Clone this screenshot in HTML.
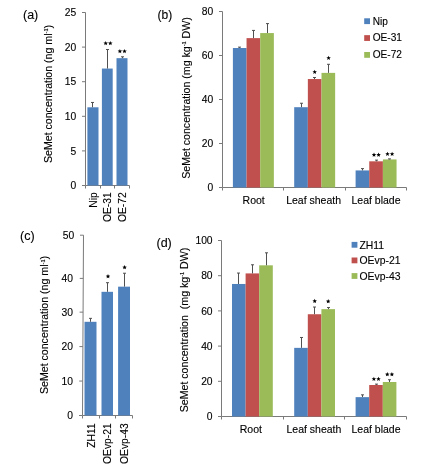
<!DOCTYPE html>
<html><head><meta charset="utf-8"><style>
html,body{margin:0;padding:0;background:#fff;overflow:hidden;}
svg{display:block;filter:blur(0.5px);}
text{font-family:"Liberation Sans", sans-serif;fill:#000;stroke:#000;stroke-width:0.12px;}
</style></head><body>
<svg width="424" height="469" viewBox="0 0 424 469">
<rect width="424" height="469" fill="#fff"/>
<text x="23.00" y="18.60" text-anchor="start" font-size="12.5" >(a)</text>
<text transform="translate(51.60,94.00) rotate(-90)" text-anchor="middle" font-size="10.6" >SeMet concentration (ng ml<tspan font-size="5.6" dy="-3.3">-1</tspan><tspan dy="3.3">)</tspan></text>
<line x1="85.50" y1="12.50" x2="85.50" y2="185.50" stroke="#7a7a7a" stroke-width="1"/>
<line x1="82.00" y1="185.50" x2="85.50" y2="185.50" stroke="#7a7a7a" stroke-width="1"/>
<text x="76.30" y="189.10" text-anchor="end" font-size="10.3" >0</text>
<line x1="82.00" y1="150.90" x2="85.50" y2="150.90" stroke="#7a7a7a" stroke-width="1"/>
<text x="76.30" y="154.50" text-anchor="end" font-size="10.3" >5</text>
<line x1="82.00" y1="116.30" x2="85.50" y2="116.30" stroke="#7a7a7a" stroke-width="1"/>
<text x="76.30" y="119.90" text-anchor="end" font-size="10.3" >10</text>
<line x1="82.00" y1="81.70" x2="85.50" y2="81.70" stroke="#7a7a7a" stroke-width="1"/>
<text x="76.30" y="85.30" text-anchor="end" font-size="10.3" >15</text>
<line x1="82.00" y1="47.10" x2="85.50" y2="47.10" stroke="#7a7a7a" stroke-width="1"/>
<text x="76.30" y="50.70" text-anchor="end" font-size="10.3" >20</text>
<line x1="82.00" y1="12.50" x2="85.50" y2="12.50" stroke="#7a7a7a" stroke-width="1"/>
<text x="76.30" y="16.10" text-anchor="end" font-size="10.3" >25</text>
<line x1="85.50" y1="185.50" x2="129.50" y2="185.50" stroke="#7a7a7a" stroke-width="1"/>
<line x1="85.50" y1="185.50" x2="85.50" y2="188.50" stroke="#7a7a7a" stroke-width="1"/>
<line x1="100.50" y1="185.50" x2="100.50" y2="188.50" stroke="#7a7a7a" stroke-width="1"/>
<line x1="114.50" y1="185.50" x2="114.50" y2="188.50" stroke="#7a7a7a" stroke-width="1"/>
<line x1="129.50" y1="185.50" x2="129.50" y2="188.50" stroke="#7a7a7a" stroke-width="1"/>
<rect x="87.40" y="107.30" width="11.10" height="78.20" fill="#4F81BD"/>
<line x1="92.50" y1="102.46" x2="92.50" y2="107.30" stroke="#505050" stroke-width="1"/>
<line x1="91.00" y1="102.46" x2="94.00" y2="102.46" stroke="#505050" stroke-width="1"/>
<rect x="101.90" y="68.55" width="10.80" height="116.95" fill="#4F81BD"/>
<line x1="107.50" y1="49.52" x2="107.50" y2="68.55" stroke="#505050" stroke-width="1"/>
<line x1="106.00" y1="49.52" x2="109.00" y2="49.52" stroke="#505050" stroke-width="1"/>
<rect x="116.50" y="58.17" width="11.00" height="127.33" fill="#4F81BD"/>
<line x1="122.50" y1="56.79" x2="122.50" y2="58.17" stroke="#505050" stroke-width="1"/>
<line x1="121.00" y1="56.79" x2="124.00" y2="56.79" stroke="#505050" stroke-width="1"/>
<text transform="translate(96.70,192.30) rotate(-90)" text-anchor="end" font-size="10.3" >Nip</text>
<text transform="translate(111.40,192.30) rotate(-90)" text-anchor="end" font-size="10.3" >OE-31</text>
<text transform="translate(125.70,192.30) rotate(-90)" text-anchor="end" font-size="10.3" >OE-72</text>
<polygon points="105.70,40.95 106.32,42.44 107.93,42.57 106.71,43.63 107.08,45.20 105.70,44.36 104.32,45.20 104.69,43.63 103.47,42.57 105.08,42.44" fill="#000"/>
<polygon points="110.30,40.95 110.92,42.44 112.53,42.57 111.31,43.63 111.68,45.20 110.30,44.36 108.92,45.20 109.29,43.63 108.07,42.57 109.68,42.44" fill="#000"/>
<polygon points="119.90,48.95 120.52,50.44 122.13,50.57 120.91,51.63 121.28,53.20 119.90,52.36 118.52,53.20 118.89,51.63 117.67,50.57 119.28,50.44" fill="#000"/>
<polygon points="124.50,48.95 125.12,50.44 126.73,50.57 125.51,51.63 125.88,53.20 124.50,52.36 123.12,53.20 123.49,51.63 122.27,50.57 123.88,50.44" fill="#000"/>
<text x="157.50" y="19.00" text-anchor="start" font-size="12" >(b)</text>
<text transform="translate(189.60,98.00) rotate(-90)" text-anchor="middle" font-size="10.6" >SeMet concentration (mg kg<tspan font-size="5.6" dy="-3.3">-1</tspan><tspan dy="3.3"> DW)</tspan></text>
<line x1="222.50" y1="11.50" x2="222.50" y2="187.50" stroke="#7a7a7a" stroke-width="1"/>
<line x1="219.00" y1="187.50" x2="222.50" y2="187.50" stroke="#7a7a7a" stroke-width="1"/>
<text x="213.30" y="191.10" text-anchor="end" font-size="10.3" >0</text>
<line x1="219.00" y1="143.50" x2="222.50" y2="143.50" stroke="#7a7a7a" stroke-width="1"/>
<text x="213.30" y="147.10" text-anchor="end" font-size="10.3" >20</text>
<line x1="219.00" y1="99.50" x2="222.50" y2="99.50" stroke="#7a7a7a" stroke-width="1"/>
<text x="213.30" y="103.10" text-anchor="end" font-size="10.3" >40</text>
<line x1="219.00" y1="55.50" x2="222.50" y2="55.50" stroke="#7a7a7a" stroke-width="1"/>
<text x="213.30" y="59.10" text-anchor="end" font-size="10.3" >60</text>
<line x1="219.00" y1="11.50" x2="222.50" y2="11.50" stroke="#7a7a7a" stroke-width="1"/>
<text x="213.30" y="15.10" text-anchor="end" font-size="10.3" >80</text>
<line x1="222.50" y1="187.50" x2="406.50" y2="187.50" stroke="#7a7a7a" stroke-width="1"/>
<line x1="222.50" y1="187.50" x2="222.50" y2="190.50" stroke="#7a7a7a" stroke-width="1"/>
<line x1="283.50" y1="187.50" x2="283.50" y2="190.50" stroke="#7a7a7a" stroke-width="1"/>
<line x1="345.50" y1="187.50" x2="345.50" y2="190.50" stroke="#7a7a7a" stroke-width="1"/>
<line x1="406.50" y1="187.50" x2="406.50" y2="190.50" stroke="#7a7a7a" stroke-width="1"/>
<rect x="232.90" y="48.02" width="13.65" height="139.48" fill="#4F81BD"/>
<line x1="239.50" y1="47.14" x2="239.50" y2="48.02" stroke="#505050" stroke-width="1"/>
<line x1="238.00" y1="47.14" x2="241.00" y2="47.14" stroke="#505050" stroke-width="1"/>
<rect x="246.55" y="38.12" width="13.65" height="149.38" fill="#C0504D"/>
<line x1="253.50" y1="30.42" x2="253.50" y2="38.12" stroke="#505050" stroke-width="1"/>
<line x1="252.00" y1="30.42" x2="255.00" y2="30.42" stroke="#505050" stroke-width="1"/>
<rect x="260.20" y="33.06" width="13.65" height="154.44" fill="#9BBB59"/>
<line x1="267.50" y1="23.60" x2="267.50" y2="33.06" stroke="#505050" stroke-width="1"/>
<line x1="266.00" y1="23.60" x2="269.00" y2="23.60" stroke="#505050" stroke-width="1"/>
<text x="253.70" y="203.60" text-anchor="middle" font-size="10.5" >Root</text>
<rect x="294.20" y="107.20" width="13.65" height="80.30" fill="#4F81BD"/>
<line x1="301.50" y1="103.24" x2="301.50" y2="107.20" stroke="#505050" stroke-width="1"/>
<line x1="300.00" y1="103.24" x2="303.00" y2="103.24" stroke="#505050" stroke-width="1"/>
<rect x="307.85" y="79.04" width="13.65" height="108.46" fill="#C0504D"/>
<line x1="314.50" y1="77.50" x2="314.50" y2="79.04" stroke="#505050" stroke-width="1"/>
<line x1="313.00" y1="77.50" x2="316.00" y2="77.50" stroke="#505050" stroke-width="1"/>
<rect x="321.50" y="72.88" width="13.65" height="114.62" fill="#9BBB59"/>
<line x1="328.50" y1="64.30" x2="328.50" y2="72.88" stroke="#505050" stroke-width="1"/>
<line x1="327.00" y1="64.30" x2="330.00" y2="64.30" stroke="#505050" stroke-width="1"/>
<text x="313.60" y="203.60" text-anchor="middle" font-size="10.5" >Leaf sheath</text>
<rect x="355.60" y="170.43" width="13.65" height="17.07" fill="#4F81BD"/>
<line x1="362.50" y1="168.62" x2="362.50" y2="170.43" stroke="#505050" stroke-width="1"/>
<line x1="361.00" y1="168.62" x2="364.00" y2="168.62" stroke="#505050" stroke-width="1"/>
<rect x="369.25" y="161.32" width="13.65" height="26.18" fill="#C0504D"/>
<line x1="376.50" y1="160.11" x2="376.50" y2="161.32" stroke="#505050" stroke-width="1"/>
<line x1="375.00" y1="160.11" x2="378.00" y2="160.11" stroke="#505050" stroke-width="1"/>
<rect x="382.90" y="159.43" width="13.65" height="28.07" fill="#9BBB59"/>
<line x1="389.50" y1="158.90" x2="389.50" y2="159.43" stroke="#505050" stroke-width="1"/>
<line x1="388.00" y1="158.90" x2="391.00" y2="158.90" stroke="#505050" stroke-width="1"/>
<text x="376.00" y="203.60" text-anchor="middle" font-size="10.5" >Leaf blade</text>
<polygon points="314.70,69.65 315.32,71.14 316.93,71.27 315.71,72.33 316.08,73.90 314.70,73.06 313.32,73.90 313.69,72.33 312.47,71.27 314.08,71.14" fill="#000"/>
<polygon points="328.60,55.65 329.22,57.14 330.83,57.27 329.61,58.33 329.98,59.90 328.60,59.06 327.22,59.90 327.59,58.33 326.37,57.27 327.98,57.14" fill="#000"/>
<polygon points="374.00,152.55 374.62,154.04 376.23,154.17 375.01,155.23 375.38,156.80 374.00,155.96 372.62,156.80 372.99,155.23 371.77,154.17 373.38,154.04" fill="#000"/>
<polygon points="378.60,152.55 379.22,154.04 380.83,154.17 379.61,155.23 379.98,156.80 378.60,155.96 377.22,156.80 377.59,155.23 376.37,154.17 377.98,154.04" fill="#000"/>
<polygon points="387.50,151.65 388.12,153.14 389.73,153.27 388.51,154.33 388.88,155.90 387.50,155.06 386.12,155.90 386.49,154.33 385.27,153.27 386.88,153.14" fill="#000"/>
<polygon points="392.10,151.65 392.72,153.14 394.33,153.27 393.11,154.33 393.48,155.90 392.10,155.06 390.72,155.90 391.09,154.33 389.87,153.27 391.48,153.14" fill="#000"/>
<rect x="364.20" y="18.30" width="5.80" height="5.80" fill="#4F81BD"/>
<text x="372.70" y="24.50" text-anchor="start" font-size="10.1" >Nip</text>
<rect x="364.20" y="35.15" width="5.80" height="5.80" fill="#C0504D"/>
<text x="372.70" y="41.35" text-anchor="start" font-size="10.1" >OE-31</text>
<rect x="364.20" y="52.00" width="5.80" height="5.80" fill="#9BBB59"/>
<text x="372.70" y="58.20" text-anchor="start" font-size="10.1" >OE-72</text>
<text x="20.00" y="239.80" text-anchor="start" font-size="12.5" >(c)</text>
<text transform="translate(48.30,325.00) rotate(-90)" text-anchor="middle" font-size="10.6" >SeMet concentration (ng ml<tspan font-size="5.6" dy="-3.3">-1</tspan><tspan dy="3.3">)</tspan></text>
<line x1="83.50" y1="235.20" x2="82.50" y2="415.50" stroke="#7a7a7a" stroke-width="1"/>
<line x1="79.00" y1="415.50" x2="82.50" y2="415.50" stroke="#7a7a7a" stroke-width="1"/>
<text x="73.00" y="419.10" text-anchor="end" font-size="10.3" >0</text>
<line x1="79.19" y1="381.05" x2="82.69" y2="381.05" stroke="#7a7a7a" stroke-width="1"/>
<text x="73.00" y="384.65" text-anchor="end" font-size="10.3" >10</text>
<line x1="79.38" y1="346.60" x2="82.88" y2="346.60" stroke="#7a7a7a" stroke-width="1"/>
<text x="73.00" y="350.20" text-anchor="end" font-size="10.3" >20</text>
<line x1="79.57" y1="312.15" x2="83.07" y2="312.15" stroke="#7a7a7a" stroke-width="1"/>
<text x="73.00" y="315.75" text-anchor="end" font-size="10.3" >30</text>
<line x1="79.76" y1="278.40" x2="83.26" y2="278.40" stroke="#7a7a7a" stroke-width="1"/>
<text x="73.00" y="282.00" text-anchor="end" font-size="10.3" >40</text>
<line x1="80.00" y1="235.20" x2="83.50" y2="235.20" stroke="#7a7a7a" stroke-width="1"/>
<text x="74.30" y="238.80" text-anchor="end" font-size="10.3" >50</text>
<line x1="82.50" y1="415.50" x2="132.50" y2="415.50" stroke="#7a7a7a" stroke-width="1"/>
<line x1="82.50" y1="415.50" x2="82.50" y2="418.50" stroke="#7a7a7a" stroke-width="1"/>
<line x1="99.50" y1="415.50" x2="99.50" y2="418.50" stroke="#7a7a7a" stroke-width="1"/>
<line x1="115.50" y1="415.50" x2="115.50" y2="418.50" stroke="#7a7a7a" stroke-width="1"/>
<line x1="132.50" y1="415.50" x2="132.50" y2="418.50" stroke="#7a7a7a" stroke-width="1"/>
<rect x="84.50" y="321.80" width="12.00" height="93.70" fill="#4F81BD"/>
<line x1="90.50" y1="318.35" x2="90.50" y2="321.80" stroke="#505050" stroke-width="1"/>
<line x1="89.00" y1="318.35" x2="92.00" y2="318.35" stroke="#505050" stroke-width="1"/>
<rect x="101.50" y="291.82" width="11.50" height="123.68" fill="#4F81BD"/>
<line x1="107.50" y1="282.70" x2="107.50" y2="291.82" stroke="#505050" stroke-width="1"/>
<line x1="106.00" y1="282.70" x2="109.00" y2="282.70" stroke="#505050" stroke-width="1"/>
<rect x="118.10" y="286.66" width="11.90" height="128.84" fill="#4F81BD"/>
<line x1="124.50" y1="273.22" x2="124.50" y2="286.66" stroke="#505050" stroke-width="1"/>
<line x1="123.00" y1="273.22" x2="126.00" y2="273.22" stroke="#505050" stroke-width="1"/>
<text transform="translate(94.90,423.30) rotate(-90)" text-anchor="end" font-size="10.3" >ZH11</text>
<text transform="translate(111.40,423.30) rotate(-90)" text-anchor="end" font-size="10.3" >OEvp-21</text>
<text transform="translate(127.90,423.30) rotate(-90)" text-anchor="end" font-size="10.3" >OEvp-43</text>
<polygon points="108.00,274.05 108.62,275.54 110.23,275.67 109.01,276.73 109.38,278.30 108.00,277.46 106.62,278.30 106.99,276.73 105.77,275.67 107.38,275.54" fill="#000"/>
<polygon points="124.60,265.05 125.22,266.54 126.83,266.67 125.61,267.73 125.98,269.30 124.60,268.46 123.22,269.30 123.59,267.73 122.37,266.67 123.98,266.54" fill="#000"/>
<text x="156.50" y="247.30" text-anchor="start" font-size="12.5" >(d)</text>
<text transform="translate(187.60,330.00) rotate(-90)" text-anchor="middle" font-size="10.6" >SeMet concentration &#160;(mg kg<tspan font-size="5.6" dy="-3.3">-1</tspan><tspan dy="3.3"> DW)</tspan></text>
<line x1="221.50" y1="240.50" x2="221.50" y2="416.50" stroke="#7a7a7a" stroke-width="1"/>
<line x1="218.00" y1="416.50" x2="221.50" y2="416.50" stroke="#7a7a7a" stroke-width="1"/>
<text x="212.60" y="420.10" text-anchor="end" font-size="10.3" >0</text>
<line x1="218.00" y1="381.30" x2="221.50" y2="381.30" stroke="#7a7a7a" stroke-width="1"/>
<text x="212.60" y="384.90" text-anchor="end" font-size="10.3" >20</text>
<line x1="218.00" y1="346.10" x2="221.50" y2="346.10" stroke="#7a7a7a" stroke-width="1"/>
<text x="212.60" y="349.70" text-anchor="end" font-size="10.3" >40</text>
<line x1="218.00" y1="310.90" x2="221.50" y2="310.90" stroke="#7a7a7a" stroke-width="1"/>
<text x="212.60" y="314.50" text-anchor="end" font-size="10.3" >60</text>
<line x1="218.00" y1="275.70" x2="221.50" y2="275.70" stroke="#7a7a7a" stroke-width="1"/>
<text x="212.60" y="279.30" text-anchor="end" font-size="10.3" >80</text>
<line x1="218.00" y1="240.50" x2="221.50" y2="240.50" stroke="#7a7a7a" stroke-width="1"/>
<text x="212.60" y="244.10" text-anchor="end" font-size="10.3" >100</text>
<line x1="221.50" y1="416.50" x2="406.50" y2="416.50" stroke="#7a7a7a" stroke-width="1"/>
<line x1="221.50" y1="416.50" x2="221.50" y2="419.50" stroke="#7a7a7a" stroke-width="1"/>
<line x1="283.50" y1="416.50" x2="283.50" y2="419.50" stroke="#7a7a7a" stroke-width="1"/>
<line x1="344.50" y1="416.50" x2="344.50" y2="419.50" stroke="#7a7a7a" stroke-width="1"/>
<line x1="406.50" y1="416.50" x2="406.50" y2="419.50" stroke="#7a7a7a" stroke-width="1"/>
<rect x="232.00" y="283.97" width="13.60" height="132.53" fill="#4F81BD"/>
<line x1="238.50" y1="273.06" x2="238.50" y2="283.97" stroke="#505050" stroke-width="1"/>
<line x1="237.00" y1="273.06" x2="240.00" y2="273.06" stroke="#505050" stroke-width="1"/>
<rect x="245.60" y="273.41" width="13.60" height="143.09" fill="#C0504D"/>
<line x1="252.50" y1="264.79" x2="252.50" y2="273.41" stroke="#505050" stroke-width="1"/>
<line x1="251.00" y1="264.79" x2="254.00" y2="264.79" stroke="#505050" stroke-width="1"/>
<rect x="259.20" y="265.32" width="13.60" height="151.18" fill="#9BBB59"/>
<line x1="266.50" y1="252.82" x2="266.50" y2="265.32" stroke="#505050" stroke-width="1"/>
<line x1="265.00" y1="252.82" x2="268.00" y2="252.82" stroke="#505050" stroke-width="1"/>
<text x="250.80" y="432.50" text-anchor="middle" font-size="10.5" >Root</text>
<rect x="294.20" y="347.86" width="13.60" height="68.64" fill="#4F81BD"/>
<line x1="301.50" y1="337.48" x2="301.50" y2="347.86" stroke="#505050" stroke-width="1"/>
<line x1="300.00" y1="337.48" x2="303.00" y2="337.48" stroke="#505050" stroke-width="1"/>
<rect x="307.80" y="314.24" width="13.60" height="102.26" fill="#C0504D"/>
<line x1="314.50" y1="307.03" x2="314.50" y2="314.24" stroke="#505050" stroke-width="1"/>
<line x1="313.00" y1="307.03" x2="316.00" y2="307.03" stroke="#505050" stroke-width="1"/>
<rect x="321.40" y="309.14" width="13.60" height="107.36" fill="#9BBB59"/>
<line x1="328.50" y1="307.56" x2="328.50" y2="309.14" stroke="#505050" stroke-width="1"/>
<line x1="327.00" y1="307.56" x2="330.00" y2="307.56" stroke="#505050" stroke-width="1"/>
<text x="313.90" y="432.50" text-anchor="middle" font-size="10.5" >Leaf sheath</text>
<rect x="355.60" y="397.14" width="13.60" height="19.36" fill="#4F81BD"/>
<line x1="362.50" y1="394.85" x2="362.50" y2="397.14" stroke="#505050" stroke-width="1"/>
<line x1="361.00" y1="394.85" x2="364.00" y2="394.85" stroke="#505050" stroke-width="1"/>
<rect x="369.20" y="385.00" width="13.60" height="31.50" fill="#C0504D"/>
<line x1="376.50" y1="384.12" x2="376.50" y2="385.00" stroke="#505050" stroke-width="1"/>
<line x1="375.00" y1="384.12" x2="378.00" y2="384.12" stroke="#505050" stroke-width="1"/>
<rect x="382.80" y="382.00" width="13.60" height="34.50" fill="#9BBB59"/>
<line x1="389.50" y1="379.72" x2="389.50" y2="382.00" stroke="#505050" stroke-width="1"/>
<line x1="388.00" y1="379.72" x2="391.00" y2="379.72" stroke="#505050" stroke-width="1"/>
<text x="376.00" y="432.50" text-anchor="middle" font-size="10.5" >Leaf blade</text>
<polygon points="314.70,298.85 315.32,300.34 316.93,300.47 315.71,301.53 316.08,303.10 314.70,302.26 313.32,303.10 313.69,301.53 312.47,300.47 314.08,300.34" fill="#000"/>
<polygon points="328.20,299.05 328.82,300.54 330.43,300.67 329.21,301.73 329.58,303.30 328.20,302.46 326.82,303.30 327.19,301.73 325.97,300.67 327.58,300.54" fill="#000"/>
<polygon points="373.90,376.65 374.52,378.14 376.13,378.27 374.91,379.33 375.28,380.90 373.90,380.06 372.52,380.90 372.89,379.33 371.67,378.27 373.28,378.14" fill="#000"/>
<polygon points="378.50,376.65 379.12,378.14 380.73,378.27 379.51,379.33 379.88,380.90 378.50,380.06 377.12,380.90 377.49,379.33 376.27,378.27 377.88,378.14" fill="#000"/>
<polygon points="387.30,372.05 387.92,373.54 389.53,373.67 388.31,374.73 388.68,376.30 387.30,375.46 385.92,376.30 386.29,374.73 385.07,373.67 386.68,373.54" fill="#000"/>
<polygon points="391.90,372.05 392.52,373.54 394.13,373.67 392.91,374.73 393.28,376.30 391.90,375.46 390.52,376.30 390.89,374.73 389.67,373.67 391.28,373.54" fill="#000"/>
<rect x="351.60" y="241.90" width="5.80" height="5.80" fill="#4F81BD"/>
<text x="359.50" y="248.60" text-anchor="start" font-size="10.4" >ZH11</text>
<rect x="351.60" y="257.50" width="5.80" height="5.80" fill="#C0504D"/>
<text x="359.50" y="264.20" text-anchor="start" font-size="10.4" >OEvp-21</text>
<rect x="351.60" y="273.10" width="5.80" height="5.80" fill="#9BBB59"/>
<text x="359.50" y="279.80" text-anchor="start" font-size="10.4" >OEvp-43</text>
</svg></body></html>
